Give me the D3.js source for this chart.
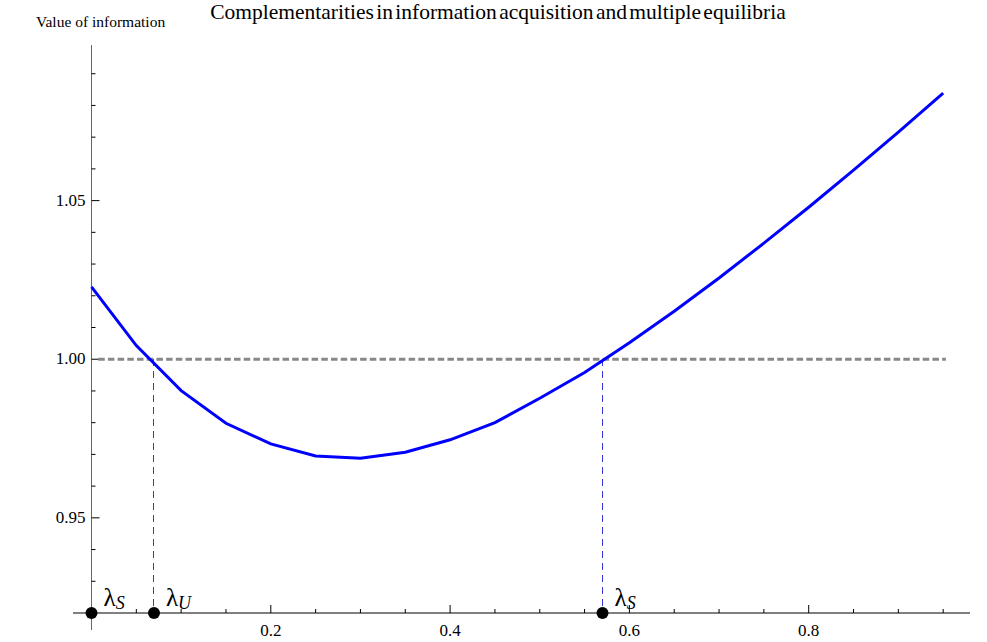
<!DOCTYPE html>
<html><head><meta charset="utf-8">
<script src="https://cdn.jsdelivr.net/npm/d3@7"></script>
<style>body{margin:0;background:#fff}svg{display:block}text{font-family:"Liberation Serif","DejaVu Serif",serif}</style>
</head><body><svg id="c" width="987" height="642"></svg>
<script>
const lambdaX = [0,0.05,0.1,0.15,0.2,0.25,0.3,0.35,0.4,0.45,0.5,0.55,0.6,0.65,0.7,0.75,0.8,0.85,0.9,0.95];
const valueY = [1.0228,1.0043,0.9901,0.9798,0.9733,0.9695,0.9688,0.9707,0.9746,0.9800,0.9877,0.9958,1.0052,1.0151,1.0256,1.0366,1.0479,1.0596,1.0716,1.0839];
const eqX = [0, 0.0697, 0.570];
const eqSub = ["S","U","S"];
const xMajor = [0.2,0.4,0.6,0.8];
const xMinor = [0.05,0.1,0.15,0.25,0.3,0.35,0.45,0.5,0.55,0.65,0.7,0.75,0.85,0.9,0.95];
const yMajor = [0.95,1.00,1.05];
const yMinor = [0.93,0.94,0.96,0.97,0.98,0.99,1.01,1.02,1.03,1.04,1.06,1.07,1.08,1.09];
const threshold = 1.0;
const title = "Complementarities in information acquisition and multiple equilibria";
const yLabel = "Value of information";

const svg = d3.select("#c");
const x = d3.scaleLinear().domain([0,1]).range([91.5,988]);
const y = d3.scaleLinear().domain([0.92,1.1]).range([613,42]);

// title
svg.append("text").attr("x",498).attr("y",19).attr("text-anchor","middle")
  .attr("font-size",21.5).attr("word-spacing",-3).text(title);
svg.append("text").attr("x",36).attr("y",27).attr("font-size",15.5).text(yLabel);

// axes lines
svg.append("line").attr("x1",x(0)).attr("x2",x(0)).attr("y1",45).attr("y2",630).attr("stroke","#666").attr("stroke-width",1);
svg.append("line").attr("x1",73).attr("x2",970).attr("y1",y(0.92)).attr("y2",y(0.92)).attr("stroke","#000").attr("stroke-width",1);

// x ticks
const gx = svg.append("g");
gx.selectAll(".mj").data(xMajor).join("line").attr("x1",d=>x(d)).attr("x2",d=>x(d)).attr("y1",y(0.92)).attr("y2",y(0.92)-8).attr("stroke","#000");
gx.selectAll(".mn").data(xMinor).join("line").attr("class","mn").attr("x1",d=>x(d)).attr("x2",d=>x(d)).attr("y1",y(0.92)).attr("y2",y(0.92)-4).attr("stroke","#000");
gx.selectAll("text").data(xMajor).join("text").attr("x",d=>x(d)).attr("y",y(0.92)+23).attr("text-anchor","middle").attr("font-size",17).text(d=>d3.format(".1f")(d));

// y ticks
const gy = svg.append("g");
gy.selectAll(".mj").data(yMajor).join("line").attr("x1",x(0)).attr("x2",x(0)+8).attr("y1",d=>y(d)).attr("y2",d=>y(d)).attr("stroke","#000");
gy.selectAll(".mn").data(yMinor).join("line").attr("class","mn").attr("x1",x(0)).attr("x2",x(0)+4).attr("y1",d=>y(d)).attr("y2",d=>y(d)).attr("stroke","#000");
gy.selectAll("text").data(yMajor).join("text").attr("x",x(0)-6).attr("y",d=>y(d)+5).attr("text-anchor","end").attr("font-size",17).text(d=>d3.format(".2f")(d));

// threshold line
svg.append("line").attr("x1",x(0.0075)).attr("x2",x(0.953)).attr("y1",y(threshold)).attr("y2",y(threshold))
  .attr("stroke","#888").attr("stroke-width",3).attr("stroke-dasharray","6.5,3.2");

// vertical dashed lines
svg.selectAll(".vd").data(eqX.slice(1)).join("line").attr("x1",d=>x(d)).attr("x2",d=>x(d)).attr("y1",y(threshold)).attr("y2",y(0.92))
  .attr("stroke","#3838d8").attr("stroke-width",1).attr("stroke-dasharray","7,5").attr("shape-rendering","crispEdges");

// curve
svg.append("path").datum(lambdaX.map((d,i)=>[d,valueY[i]]))
  .attr("d",d3.line().x(d=>x(d[0])).y(d=>y(d[1])))
  .attr("fill","none").attr("stroke","#0000ff").attr("stroke-width",3);

// equilibrium dots
svg.selectAll(".dot").data(eqX).join("circle").attr("cx",d=>x(d)).attr("cy",y(0.92)).attr("r",6).attr("fill","#000");
const lab = svg.selectAll(".lab").data(eqX).join("text").attr("x",d=>x(d)+12).attr("y",y(0.92)-7).attr("font-size",25);
lab.append("tspan").text("λ");
lab.append("tspan").attr("font-size",18).attr("font-style","italic").attr("dy",3).text((d,i)=>eqSub[i]);
</script></body></html>
